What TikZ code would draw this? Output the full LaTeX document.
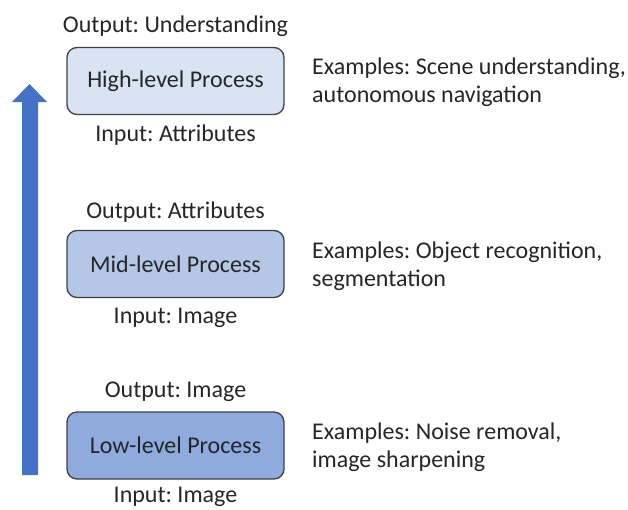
\documentclass[tikz,border=0pt]{standalone}
\usepackage{fontspec}
\setmainfont{Carlito}
\begin{document}
\frenchspacing
\begin{tikzpicture}[x=1pt,y=-1pt,
  every node/.style={font=\fontsize{24}{28}\selectfont\frenchspacing, text=black!85, inner sep=0pt},
  proc/.style={draw=black!75, line width=1.3pt, rounded corners=10pt, minimum width=217pt, minimum height=67pt},
  lbl/.style={anchor=center},
  ex/.style={anchor=west, align=left}]
\useasboundingbox (0,0) rectangle (628,509);
% arrow
\fill[fill={rgb,255:red,68;green,114;blue,196}] (22,475) -- (22,102) -- (12,102) -- (29.5,84) -- (47,102) -- (38,102) -- (38,475) -- cycle;
% high
\node[proc, fill={rgb,255:red,218;green,227;blue,243}] (high) at (175.5,81) {High-level Process};
\node[lbl] (highout) at (175.5,26) {Output: Understanding};
\node[lbl] (highin) at (175.5,135) {Input: Attributes};
\node[ex] (highex) at (312,82) {Examples: Scene understanding,\\autonomous navigation};
% mid
\node[proc, fill={rgb,255:red,180;green,199;blue,231}] (mid) at (175.5,264) {Mid-level Process};
\node[lbl] (midout) at (175.5,212) {Output: Attributes};
\node[lbl] (midin) at (175.5,318) {Input: Image};
\node[ex] (midex) at (312,266) {Examples: Object recognition,\\segmentation};
% low
\node[proc, fill={rgb,255:red,143;green,170;blue,220}] (low) at (175.5,445.5) {Low-level Process};
\node[lbl] (lowout) at (175.5,392) {Output: Image};
\node[lbl] (lowin) at (175.5,497) {Input: Image};
\node[ex] (lowex) at (312,447) {Examples: Noise removal,\\image sharpening};
\end{tikzpicture}
\end{document}
